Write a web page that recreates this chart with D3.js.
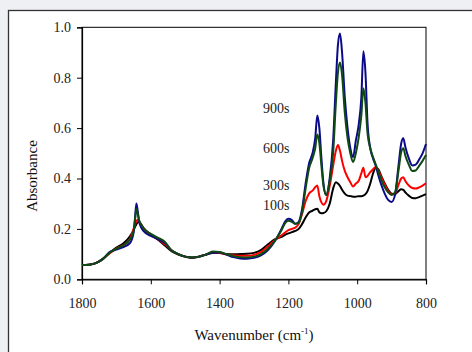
<!DOCTYPE html>
<html><head><meta charset="utf-8">
<script src="https://cdn.jsdelivr.net/npm/d3@7"></script>
<style>
html,body{margin:0;padding:0;background:#eef0f4;}
svg{display:block;}
</style></head>
<body>
<script>
const wavenumbers = [1800,1780,1760,1740,1720,1700,1680,1660,1650,1646,1642,1638,1634,1630,1620,1600,1580,1560,1540,1520,1500,1480,1460,1440,1420,1400,1380,1360,1340,1320,1300,1280,1260,1240,1220,1210,1200,1190,1180,1170,1160,1150,1140,1130,1122,1116,1110,1104,1098,1090,1080,1070,1062,1056,1050,1044,1036,1028,1020,1012,1004,996,988,982,976,970,962,954,946,938,930,920,910,900,890,880,872,866,860,850,840,830,820,810,800];

const s900 = [0.057,0.058,0.064,0.08,0.108,0.118,0.128,0.145,0.185,0.24,0.301,0.27,0.23,0.212,0.19,0.172,0.16,0.145,0.115,0.1,0.09,0.087,0.09,0.098,0.105,0.106,0.098,0.088,0.083,0.082,0.085,0.095,0.115,0.15,0.2,0.228,0.24,0.235,0.22,0.228,0.28,0.38,0.46,0.5,0.56,0.65,0.6,0.48,0.38,0.335,0.4,0.55,0.78,0.93,0.975,0.9,0.72,0.6,0.52,0.485,0.55,0.61,0.72,0.905,0.82,0.62,0.52,0.48,0.45,0.41,0.375,0.34,0.315,0.307,0.335,0.45,0.54,0.56,0.525,0.48,0.452,0.455,0.475,0.5,0.537];

const s600 = [0.057,0.058,0.064,0.08,0.105,0.122,0.135,0.16,0.19,0.235,0.28,0.26,0.235,0.222,0.2,0.18,0.165,0.15,0.115,0.1,0.09,0.087,0.09,0.098,0.11,0.108,0.1,0.092,0.088,0.087,0.09,0.1,0.12,0.152,0.195,0.222,0.232,0.228,0.22,0.225,0.27,0.36,0.44,0.48,0.52,0.575,0.54,0.45,0.37,0.335,0.39,0.5,0.7,0.82,0.86,0.81,0.66,0.56,0.5,0.465,0.5,0.56,0.65,0.758,0.7,0.58,0.52,0.485,0.455,0.425,0.395,0.365,0.345,0.335,0.345,0.43,0.505,0.52,0.49,0.455,0.43,0.432,0.45,0.47,0.493];

const s300 = [0.057,0.058,0.064,0.08,0.103,0.122,0.135,0.16,0.2,0.215,0.233,0.235,0.228,0.22,0.198,0.175,0.16,0.14,0.115,0.1,0.09,0.087,0.09,0.098,0.106,0.105,0.098,0.095,0.093,0.093,0.097,0.108,0.13,0.155,0.175,0.185,0.195,0.2,0.205,0.22,0.26,0.31,0.34,0.352,0.365,0.372,0.33,0.305,0.296,0.31,0.37,0.45,0.51,0.533,0.51,0.47,0.43,0.405,0.385,0.368,0.38,0.39,0.42,0.443,0.405,0.41,0.425,0.437,0.446,0.43,0.405,0.375,0.35,0.337,0.34,0.375,0.4,0.405,0.39,0.372,0.362,0.36,0.365,0.372,0.381];

const s100 = [0.057,0.058,0.064,0.08,0.104,0.126,0.142,0.172,0.195,0.208,0.218,0.226,0.228,0.222,0.202,0.178,0.158,0.135,0.112,0.098,0.09,0.085,0.09,0.098,0.104,0.104,0.1,0.099,0.1,0.101,0.105,0.116,0.138,0.158,0.168,0.176,0.182,0.187,0.192,0.2,0.22,0.245,0.265,0.272,0.278,0.28,0.266,0.262,0.263,0.27,0.3,0.36,0.385,0.38,0.37,0.355,0.34,0.332,0.33,0.328,0.328,0.33,0.33,0.332,0.338,0.35,0.38,0.42,0.443,0.435,0.41,0.38,0.355,0.34,0.338,0.35,0.357,0.355,0.345,0.332,0.323,0.322,0.326,0.332,0.338];

const seriesNames = ["100s","300s","900s","600s"];
const seriesColors = ["#000000","#ff0000","#0a0a8a","#0f4a12"];
const seriesValues = [s100, s300, s900, s600];

const xTicks = [1800,1600,1400,1200,1000,800];
const yTicks = [0,0.2,0.4,0.6,0.8,1.0];

const labels = [
  {text:"900s", y:0.66},
  {text:"600s", y:0.50},
  {text:"300s", y:0.355},
  {text:"100s", y:0.275}
];

const W = 472, H = 352;
const svg = d3.select("body").append("svg").attr("width", W).attr("height", H);

svg.append("rect").attr("x",0).attr("y",0).attr("width",W).attr("height",H).attr("fill","#eef0f4");
svg.append("rect").attr("x",8.5).attr("y",10.5).attr("width",W+10).attr("height",H+10)
  .attr("fill","#ffffff").attr("stroke","#333333").attr("stroke-width",1.3);

const L = 82, R = 426, T = 27.3, B = 279.3;
const x = d3.scaleLinear().domain([1800,800]).range([L,R]);
const y = d3.scaleLinear().domain([0,1]).range([B,T]);

const font = "'Liberation Serif','Times New Roman',Times,serif";

svg.append("rect").attr("x",L).attr("y",T).attr("width",R-L).attr("height",B-T)
  .attr("fill","none").attr("stroke","#000").attr("stroke-width",1);

const xAxis = svg.append("g").attr("transform",`translate(0,${B})`)
  .call(d3.axisBottom(x).tickValues(xTicks).tickSize(5).tickPadding(14).tickFormat(d3.format("d")));
const yAxis = svg.append("g").attr("transform",`translate(${L},0)`)
  .call(d3.axisLeft(y).tickValues(yTicks).tickSize(5).tickPadding(6).tickFormat(d3.format(".1f")));
[xAxis,yAxis].forEach(g=>{
  g.selectAll("path").attr("stroke","#000").attr("stroke-width",1.2);
  g.selectAll("line").attr("stroke","#000");
  g.selectAll("text").attr("font-family",font).attr("font-size",14).attr("fill","#222");
});

const line = d3.line().curve(d3.curveMonotoneX)
  .x((d,i)=>x(wavenumbers[i])).y(d=>y(d));

seriesValues.forEach((vals,k)=>{
  svg.append("path").datum(vals).attr("d",line)
    .attr("fill","none").attr("stroke",seriesColors[k]).attr("stroke-width",2)
    .attr("stroke-linejoin","round");
});

labels.forEach(l=>{
  svg.append("text").attr("x",263).attr("y",y(l.y)).text(l.text)
    .attr("font-family",font).attr("font-size",14).attr("fill","#222");
});

const xt = svg.append("text").attr("x",254).attr("y",340).attr("text-anchor","middle")
  .attr("font-family",font).attr("font-size",15).attr("fill","#111");
xt.append("tspan").text("Wavenumber (cm");
xt.append("tspan").text("-1").attr("font-size",9).attr("dy",-6);
xt.append("tspan").text(")").attr("dy",6);

svg.append("text").attr("transform","translate(37,176) rotate(-90)").attr("text-anchor","middle")
  .attr("font-family",font).attr("font-size",15).attr("fill","#111").text("Absorbance");
</script>
</body></html>
